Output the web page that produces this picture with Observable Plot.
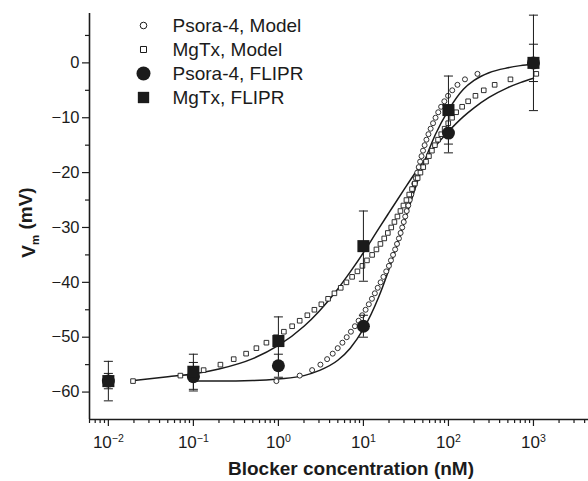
<!DOCTYPE html>
<html><head><meta charset="utf-8">
<script src="https://cdn.jsdelivr.net/npm/d3@7"></script>
<script src="https://cdn.jsdelivr.net/npm/@observablehq/plot@0.6"></script>
<style>
body{margin:0;background:#fff;}
#chart svg{display:block;}
</style>
</head><body><div id="chart"></div>
<script>
// ---------- axes ----------
const xDomain = [0.006, 4440];
const yDomain = [-65, 9];
const xMajorTicks = [0.01, 0.1, 1, 10, 100, 1000];
const xTickBase = "10";
const xTickExponents = ["−2", "−1", "0", "1", "2", "3"];
const xMinorTicks = [0.006, 0.007, 0.008, 0.009,
  0.02, 0.03, 0.04, 0.05, 0.06, 0.07, 0.08, 0.09,
  0.2, 0.3, 0.4, 0.5, 0.6, 0.7, 0.8, 0.9,
  2, 3, 4, 5, 6, 7, 8, 9,
  20, 30, 40, 50, 60, 70, 80, 90,
  200, 300, 400, 500, 600, 700, 800, 900,
  2000, 3000, 4000];
const yMajorTicks = [-60, -50, -40, -30, -20, -10, 0];
const yMinorTicks = [-55, -45, -35, -25, -15, -5, 5];
const xLabel = "Blocker concentration (nM)";
const yLabelMain = "V";
const yLabelSub = "m";
const yLabelUnit = " (mV)";
const legendLabels = ["Psora-4, Model", "MgTx, Model", "Psora-4, FLIPR", "MgTx, FLIPR"];

// ---------- model points (open symbols) ----------
const psoraModelX = [0.947, 1.781, 2.492, 3.120, 3.741, 4.353, 4.985, 5.662, 6.361, 7.127,
  7.943, 8.781, 9.680, 10.61, 11.57, 12.59, 13.62, 14.73, 15.94, 17.19,
  18.55, 19.95, 21.07, 22.30, 23.61, 24.85, 26.16, 27.39, 28.61, 29.80,
  31.03, 32.31, 33.66, 35.05, 36.51, 38.02, 39.60, 41.24, 42.95, 44.73,
  46.46, 48.25, 50.25, 52.48, 55.11, 58.19, 61.73, 65.90, 70.50, 75.86,
  82.06, 89.48, 98.92, 110.8, 127.6, 156.4, 219.4];
const psoraModelV = [-58, -57, -56, -55, -54, -53, -52, -51, -50, -49,
  -48, -47, -46, -45, -44, -43, -42, -41, -40, -39,
  -38, -37, -36, -35, -34, -33, -32, -31, -30, -29,
  -28, -27, -26, -25, -24, -23, -22, -21, -20, -19,
  -18, -17, -16, -15, -14, -13, -12, -11, -10, -9,
  -8, -7, -6, -5, -4, -3, -2];
const mgtxModelX = [0.0195, 0.0703, 0.132, 0.208, 0.298, 0.417, 0.551, 0.723, 0.93, 1.16,
  1.45, 1.78, 2.19, 2.65, 3.2, 3.84, 4.56, 5.41, 6.31, 7.36,
  8.5, 9.73, 11.0, 12.66, 14.22, 15.85, 17.57, 19.37, 21.24, 23.15,
  25.12, 27.25, 29.55, 32.05, 34.58, 37.31, 40.25, 43.42, 46.84, 50.53,
  54.52, 58.97, 63.93, 69.37, 75.45, 82.28, 90.22, 99.46, 110.3, 123.2,
  144.9, 170.5, 207.8, 260.2, 349.6, 536.4, 1080];
const mgtxModelV = [-58, -57, -56, -55, -54, -53, -52, -51, -50, -49,
  -48, -47, -46, -45, -44, -43, -42, -41, -40, -39,
  -38, -37, -36, -35, -34, -33, -32, -31, -30, -29,
  -28, -27, -26, -25, -24, -23, -22, -21, -20, -19,
  -18, -17, -16, -15, -14, -13, -12, -11, -10, -9,
  -8, -7, -6, -5, -4, -3, -2];

// ---------- fitted curves ----------
const mgtxFitX = [0.02, 0.05, 0.1, 0.2, 0.5, 1, 2, 3, 5, 7, 10, 15, 20, 30, 40, 50, 70, 100, 150, 200, 300, 500, 700, 1000];
const mgtxFitV = [-57.9, -57.2, -56.7, -55.8, -53.9, -51.5, -48.0, -45.3, -41.2, -38.1, -34.6, -30.3, -27.3, -23.1, -20.2, -18.1, -15.2, -12.5, -9.8, -8.2, -6.3, -4.5, -3.6, -2.8];
const psoraFitX = [0.1, 0.2, 0.5, 1, 2, 3, 5, 7, 10, 15, 20, 25, 30, 40, 50, 70, 100, 150, 200, 300, 500, 700, 1000];
const psoraFitV = [-58.0, -58.0, -57.9, -57.6, -57.0, -56.1, -54.2, -52.0, -48.5, -42.8, -37.6, -33.1, -29.2, -23.2, -18.8, -13.1, -8.6, -4.8, -3.2, -1.8, -0.9, -0.5, -0.2];

// ---------- FLIPR measurements (filled symbols) ----------
const fliprX = [0.01, 0.1, 1, 10, 100, 1000];
const psoraFliprV = [-58.0, -57.2, -55.2, -48.0, -12.8, 0.0];
const psoraFliprErr = [1.4, 2.6, 2.1, 2.0, 3.6, 3.4];
const mgtxFliprV = [-58.0, -56.3, -50.7, -33.4, -8.6, 0.0];
const mgtxFliprErr = [3.6, 3.2, 4.4, 6.4, 6.2, 8.7];

// ---------- tables ----------
const pts = (xs, vs) => xs.map((x, i) => ({x, v: vs[i]}));
const psoraModel = pts(psoraModelX, psoraModelV);
const mgtxModel = pts(mgtxModelX, mgtxModelV);
const mgtxFit = pts(mgtxFitX, mgtxFitV);
const psoraFit = pts(psoraFitX, psoraFitV);
const errTable = (vs, es) => fliprX.map((x, i) => ({x, v: vs[i], lo: vs[i] - es[i], hi: vs[i] + es[i]}));
const psoraFlipr = errTable(psoraFliprV, psoraFliprErr);
const mgtxFlipr = errTable(mgtxFliprV, mgtxFliprErr);
const errAll = psoraFlipr.concat(mgtxFlipr);

const ink = "#1b1b1b";
const capSymbol = {draw(ctx, size) { const w = Math.sqrt(size); ctx.moveTo(-w / 2, 0); ctx.lineTo(w / 2, 0); }};

const legendStyles = [
  {symbol: "circle", r: 3.3, fill: "white", strokeWidth: 1},
  {symbol: "square", r: 3.4, fill: "white", strokeWidth: 1},
  {symbol: "circle", r: 7, fill: ink, strokeWidth: 0},
  {symbol: "square", r: 6.4, fill: ink, strokeWidth: 0}
];
const legendMarks = legendLabels.flatMap((label, i) => [
  Plot.dot([label], {frameAnchor: "top-left", dx: 54, dy: 12 + i * 24, ...legendStyles[i], stroke: ink}),
  Plot.text([label], {frameAnchor: "top-left", dx: 83, dy: 12 + i * 24, text: d => d, textAnchor: "start", lineAnchor: "middle", fontSize: 19, fill: ink})
]);

const chart = Plot.plot({
  width: 588, height: 481,
  marginLeft: 89, marginRight: 0, marginTop: 13, marginBottom: 62,
  style: {fontFamily: "'Liberation Sans', Arial, Helvetica, sans-serif", background: "white", color: ink},
  x: {type: "log", domain: xDomain},
  y: {domain: yDomain},
  marks: [
    Plot.axisX(xMajorTicks, {tickSize: 7, tickPadding: 9, fontSize: 17, label: null, strokeWidth: 1.2,
      tickFormat: d => xTickBase + "^" + xTickExponents[xMajorTicks.indexOf(d)]}),
    Plot.axisX(xMinorTicks, {tickSize: 4, tickFormat: () => "", label: null, strokeWidth: 1.2}),
    Plot.axisY(yMajorTicks, {tickSize: 7, tickPadding: 3, fontSize: 16.5, label: null, strokeWidth: 1.2}),
    Plot.axisY(yMinorTicks, {tickSize: 4, tickFormat: () => "", label: null, strokeWidth: 1.2}),
    Plot.ruleX([xDomain[0]], {stroke: ink, strokeWidth: 1.6}),
    Plot.ruleY([yDomain[0]], {stroke: ink, strokeWidth: 1.6}),
    // fitted curves
    Plot.line(mgtxFit, {x: "x", y: "v", stroke: ink, strokeWidth: 1.5, curve: "monotone-x"}),
    Plot.line(psoraFit, {x: "x", y: "v", stroke: ink, strokeWidth: 1.5, curve: "monotone-x"}),
    // model points
    Plot.dot(psoraModel, {x: "x", y: "v", symbol: "circle", r: 2.5, stroke: ink, fill: "white", strokeWidth: 0.9}),
    Plot.dot(mgtxModel, {x: "x", y: "v", symbol: "square", r: 2.6, stroke: ink, fill: "white", strokeWidth: 0.9}),
    // error bars
    Plot.ruleX(errAll, {x: "x", y1: "lo", y2: "hi", stroke: ink, strokeWidth: 1}),
    Plot.dot(errAll, {x: "x", y: "lo", symbol: capSymbol, r: 5.1, stroke: ink, fill: "none", strokeWidth: 1}),
    Plot.dot(errAll, {x: "x", y: "hi", symbol: capSymbol, r: 5.1, stroke: ink, fill: "none", strokeWidth: 1}),
    // FLIPR data
    Plot.dot(psoraFlipr, {x: "x", y: "v", symbol: "circle", r: 6.5, fill: ink, stroke: "none"}),
    Plot.dot(mgtxFlipr, {x: "x", y: "v", symbol: "square", r: 6.8, fill: ink, stroke: "none"}),
    // labels
    Plot.text([xLabel], {frameAnchor: "bottom", dx: 12, dy: 49, text: d => d, fontSize: 19, fontWeight: "bold", lineAnchor: "middle", fill: ink}),
    Plot.text([yLabelMain + yLabelSub + yLabelUnit], {frameAnchor: "left", dx: -61, dy: 6, rotate: -90, text: d => d, fontSize: 19, fontWeight: "bold", lineAnchor: "middle", textAnchor: "middle", fill: ink}),
    ...legendMarks
  ]
});

// superscripts on x tick labels, subscript on y label
const NS = "http://www.w3.org/2000/svg";
chart.querySelectorAll("text").forEach(t => {
  const s = t.textContent;
  if (s.includes("^")) {
    const [b, e] = s.split("^");
    t.textContent = "";
    const t1 = document.createElementNS(NS, "tspan"); t1.textContent = b; t.appendChild(t1);
    const t2 = document.createElementNS(NS, "tspan"); t2.textContent = e;
    t2.setAttribute("dy", "-0.5em"); t2.setAttribute("font-size", "0.62em"); t.appendChild(t2);
  } else if (s === yLabelMain + yLabelSub + yLabelUnit) {
    t.textContent = "";
    const a = document.createElementNS(NS, "tspan"); a.textContent = yLabelMain; t.appendChild(a);
    const b = document.createElementNS(NS, "tspan"); b.textContent = yLabelSub;
    b.setAttribute("dy", "0.35em"); b.setAttribute("font-size", "0.6em"); t.appendChild(b);
    const c = document.createElementNS(NS, "tspan"); c.textContent = yLabelUnit;
    c.setAttribute("dy", "-0.35em"); t.appendChild(c);
  }
});
document.getElementById("chart").appendChild(chart);
</script>
</body></html>
